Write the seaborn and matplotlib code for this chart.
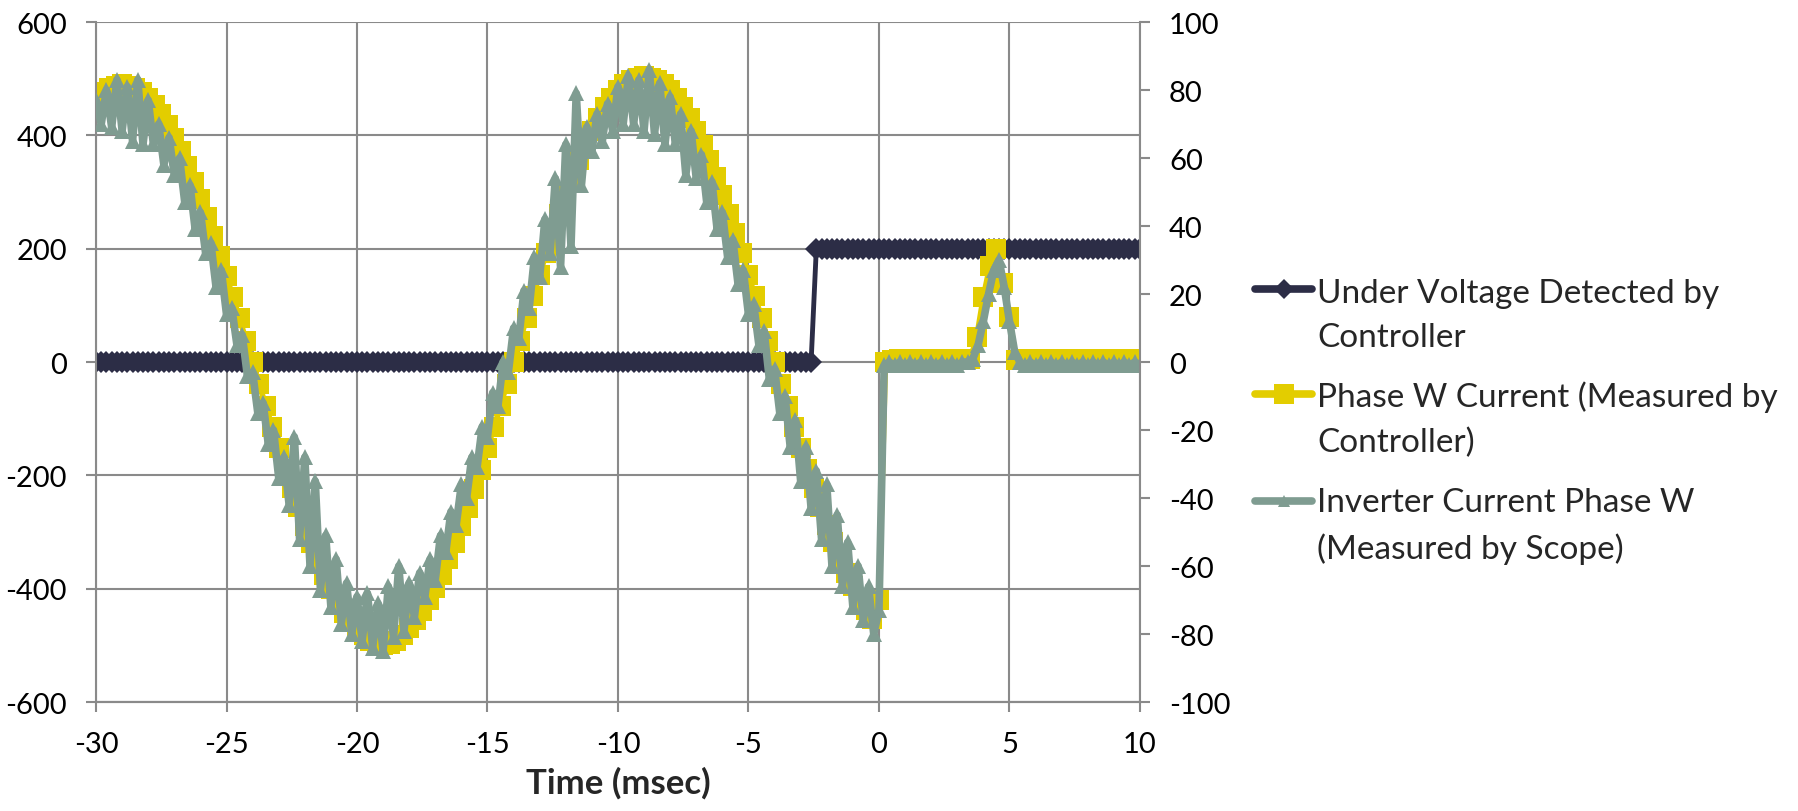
import numpy as np
import pandas as pd
import matplotlib
matplotlib.use("Agg")
import matplotlib.pyplot as plt
from matplotlib.lines import Line2D
import seaborn as sns

# ----- DATA -----
# under voltage flag from the controller, sampled every 0.2 ms from -30 to 10 ms
uv_time = np.round(np.arange(-30, 10.001, 0.2), 2)
uv_state = [0] * 138 + [200] * 63

# phase W current seen by the controller, every 0.25 ms (left axis)
ctrl_time = np.round(np.arange(-30, 10.001, 0.25), 2)
ctrl_current = [
    466, 476, 484, 488, 490, 488, 484, 476, 466, 453, 437, 418, 396, 373, 346, 318,
    288, 256, 222, 188, 151, 114, 77, 38, 0,
    -38, -77, -114, -151, -188, -222, -256, -290, -320, -350, -376, -400, -422, -442,
    -458, -472, -482, -492, -498, -500, -498, -492, -482, -470, -456, -440, -420, -398,
    -375, -348, -320, -290, -258, -224, -190, -152, -115, -77, -38, 0,
    38, 78, 116, 154, 192, 228, 262, 295, 326, 356, 383, 408, 430, 450, 466, 480, 490,
    498, 502, 505, 502, 498, 490, 480, 466, 450, 430, 408, 383, 356, 326, 295, 262,
    228, 192, 154, 116, 78, 38, 0,
    -38, -77, -114, -151, -188, -222, -256, -288, -318, -346, -373, -396, -418, -437,
    -453, -420,
    0, 3, 5, 4, 5, 3, 5, 4, 5, 3, 5, 4, 5, 5, 45, 115, 170, 200, 140, 80, 3,
    5, 4, 5, 3, 5, 4, 5, 3, 5, 4, 5, 3, 5, 4, 5, 3, 5, 4, 5,
]

# inverter current from the scope, every 0.2 ms (right axis)
scope_time = np.round(np.arange(-30, 10.001, 0.2), 2)
scope_current = [
    77, 70, 80, 69, 83, 68, 81, 65, 83, 64, 77, 64, 70, 58, 66, 55, 60, 47, 52, 39,
    44, 32, 35, 22, 27, 14, 16, 5, 8, -4, -3, -15, -12, -24, -20, -34, -28, -42, -22, -52,
    -28, -60, -35, -67, -51, -72, -58, -77, -65, -80, -69, -82, -68, -84, -71, -85, -66, -81, -60, -79,
    -65, -75, -62, -69, -58, -64, -51, -56, -44, -48, -36, -40, -28, -31, -19, -22, -9, -13, 0, -3,
    10, 7, 21, 16, 31, 25, 42, 32, 54, 28, 64, 34, 79, 52, 69, 62, 73, 65, 76, 68,
    81, 70, 84, 70, 83, 68, 86, 67, 82, 64, 78, 64, 73, 55, 68, 54, 61, 47, 53, 39,
    44, 31, 36, 23, 27, 14, 17, 5, 9, -5, -2, -15, -10, -25, -17, -35, -25, -43, -32, -52,
    -36, -60, -45, -66, -53, -72, -60, -76, -66, -80, -73,
    -1, 0, -1, 0, -1, 0, -1, 0, -1, 0, -1, 0, -1, 0, -1, 0, 0, 1, 5, 12,
    20, 27, 30, 22, 12, 3, 0, -1, 0, -1, 0, -1, 0, -1, 0, -1, 0, -1, 0, -1,
    0, -1, 0, -1, 0, -1, 0, -1, 0, -1,
]

labels = [
    "Under Voltage Detected by\nController",
    "Phase W Current (Measured by\nController)",
    "Inverter Current Phase W\n(Measured by Scope)",
]
x_ticks = np.arange(-30, 11, 5)
left_ticks = np.arange(-600, 601, 200)
right_ticks = np.arange(-100, 101, 20)

NAVY = "#2c2d46"
YELLOW = "#e3cd00"
SAGE = "#7f9c91"
GRID = "#8a8a8a"

# ----- STYLE -----
sns.set_style("white")
plt.rcParams["font.family"] = ["Lato", "DejaVu Sans"]

df_uv = pd.DataFrame({"t": uv_time, "v": uv_state})
df_ctrl = pd.DataFrame({"t": ctrl_time, "v": ctrl_current})
df_scope = pd.DataFrame({"t": scope_time, "v": scope_current})

fig = plt.figure(figsize=(17.98, 8.12), dpi=100)
ax = fig.add_axes([0.0534, 0.1342, 0.5806, 0.8374])
ax2 = ax.twinx()

sns.lineplot(data=df_uv, x="t", y="v", ax=ax, color=NAVY, linewidth=3.5,
             marker="D", markersize=11.5, markeredgewidth=0, legend=False)
sns.lineplot(data=df_ctrl, x="t", y="v", ax=ax, color=YELLOW, linewidth=4,
             marker="s", markersize=14, markeredgewidth=0, legend=False)
sns.lineplot(data=df_scope, x="t", y="v", ax=ax2, color=SAGE, linewidth=5.5,
             marker="^", markersize=12, markeredgewidth=0, legend=False)

ax.set_xlim(-30, 10)
ax.set_ylim(-600, 600)
ax2.set_ylim(-100, 100)
ax.set_xticks(x_ticks)
ax.set_yticks(left_ticks)
ax2.set_yticks(right_ticks)
ax.set_xticklabels([str(v) for v in x_ticks])
ax.set_yticklabels([str(v) for v in left_ticks])
ax2.set_yticklabels([str(v) for v in right_ticks])

ax.grid(True, color=GRID, linewidth=1.5)
ax.set_axisbelow(True)
ax2.grid(False)

for a in (ax, ax2):
    for side, sp in a.spines.items():
        sp.set_color(GRID)
        sp.set_linewidth(1.5)
    a.spines["top"].set_visible(False)
    a.tick_params(direction="out", length=7, width=1.5, color=GRID,
                  pad=14, labelsize=21, labelcolor="black")
ax.spines["right"].set_visible(False)
ax2.spines["left"].set_visible(False)
ax.tick_params(axis="y", left=True, right=False)
ax.tick_params(axis="x", bottom=True)
ax2.tick_params(axis="y", right=True)

ax.set_xlabel("Time (msec)", fontsize=25, fontweight="bold", labelpad=6)
ax.set_ylabel("")
ax2.set_ylabel("")

# ----- LEGEND (handle lines up with the first text line) -----
handle_specs = [(NAVY, "D", 10), (YELLOW, "s", 14), (SAGE, "^", 8)]
entry_y = [290, 395, 502]
for (col, mk, ms), lab, yp in zip(handle_specs, labels, entry_y):
    yf = 1 - yp / 812
    fig.add_artist(Line2D([1255 / 1798, 1312 / 1798], [yf, yf], color=col,
                          linewidth=5.5, solid_capstyle="round",
                          transform=fig.transFigure))
    fig.add_artist(Line2D([1284 / 1798], [yf], color=col, marker=mk,
                          markersize=ms, markeredgewidth=0,
                          transform=fig.transFigure))
    # baseline of the second text line
    fig.text(1317 / 1798, 1 - (yp + 57) / 812, lab, fontsize=24, va="baseline",
             ha="left", linespacing=1.6)

fig.savefig("out.png", dpi=100)
